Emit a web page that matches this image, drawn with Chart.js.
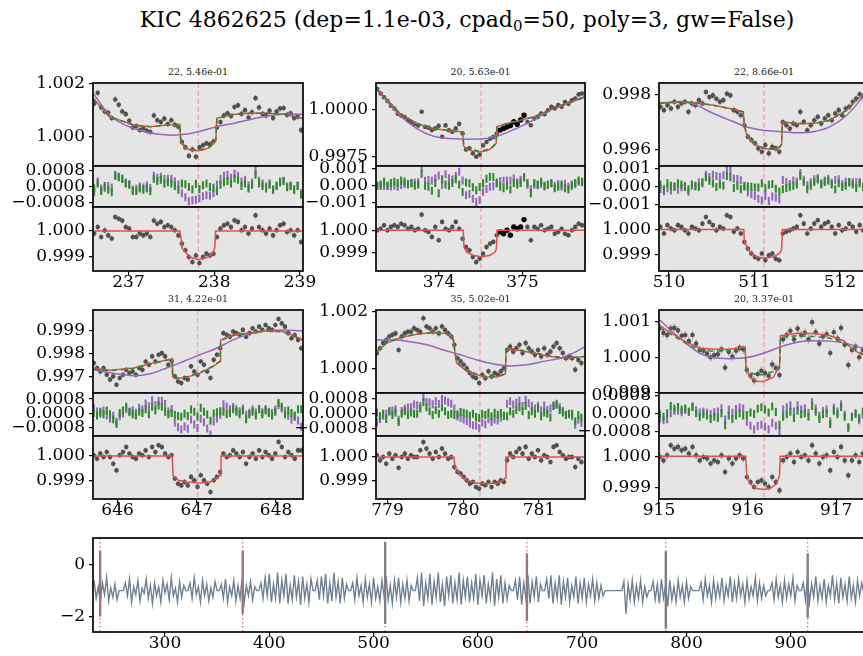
<!DOCTYPE html>
<html>
<head>
<meta charset="utf-8">
<script src="https://cdn.jsdelivr.net/npm/chart.js@4.4.1/dist/chart.umd.min.js"></script>
<style>
  html, body { margin: 0; padding: 0; background: #fff; }
  body { width: 863px; height: 656px; overflow: hidden; position: relative; font-family: "DejaVu Serif", serif; }
  canvas { position: absolute; }
  .lbl { position: absolute; white-space: nowrap; text-align: center; color: #000; }
  #title { left: 0; width: 934px; top: 7px; font-size: 22px; line-height: 26px; }
  #title sub { font-size: 15px; vertical-align: -4px; line-height: 0; }
  .sub { width: 200px; font-size: 9.5px; line-height: 12px; color: #222; }
</style>
</head>
<body>
<div id="title" class="lbl">KIC 4862625 (dep=1.1e-03, cpad<sub>0</sub>=50, poly=3, gw=False)</div>
<script>
// ---------- transit windows ----------
const panelTitles = ["22, 5.46e-01", "20, 5.63e-01", "22, 8.66e-01", "31, 4.22e-01", "35, 5.02e-01", "20, 3.37e-01"];
const transitMid = [237.815, 374.503, 511.111, 647.011, 780.22, 916.186];
const xLimits = [[236.586, 239.035], [373.245, 375.749], [509.883, 512.34], [645.69, 648.34], [778.848, 781.607], [915.0, 917.37]];
const xTickVals = [[237, 238, 239], [374, 375], [510, 511, 512], [646, 647, 648], [779, 780, 781], [915, 916, 917]];
const firstTime = [236.60, 373.26, 509.90, 645.70, 778.86, 915.01];
const CADENCE = 0.0409;     // two Kepler long cadences, days
const FLUX_ERR = 1.2e-4;    // per-point flux uncertainty

const topLimits = [[0.99890, 1.00202], [0.99701, 1.001403], [0.995429, 0.998404], [0.996313, 0.999888], [0.999152, 1.00206], [0.999, 1.00132]];
const topTicks = [[1.000, 1.002], [0.9975, 1.0000], [0.996, 0.998], [0.997, 0.998, 0.999], [1.000, 1.002], [0.999, 1.000, 1.001]];
const topDecimals = [3, 4, 3, 3, 3, 3];
const residLimits = [[-0.00105, 0.00105], [-0.00123, 0.00113], [-0.00114, 0.00113], [-0.00126, 0.00114], [-0.00121, 0.00113], [-0.00098, 0.00092]];
const residTicks = [[-0.0008, 0, 0.0008], [-0.001, 0, 0.001], [-0.001, 0, 0.001], [-0.0008, 0, 0.0008], [-0.0008, 0, 0.0008], [-0.0008, 0, 0.0008]];
const residDecimals = [4, 3, 3, 4, 4, 4];
const detLimits = [[0.998462, 1.000923], [0.998207, 1.001026], [0.998324, 1.000915], [0.99823, 1.000823], [0.99825, 1.000875], [0.998636, 1.000649]];
const detTicks = [0.999, 1.000];
const flaggedIdx = [[], [36, 37, 38, 39, 40, 41, 42, 43], [], [], [], []];

// ---------- per-transit light curves (flux - 1, in units of 1e-5) ----------
const p1Raw = [125,165,110,95,90,70,140,120,95,85, 60,35,40,25,32,22,18,80,62,55, 68,48,62,45,38,-20,-40,-72,-48,-75, -40,-32,-25,-28,-18,35,55,80,88,78, 112,118,86,100,72,92,145,110,86,80, 98,70,95,106,108,82,88,70,75,25];
const p1Det = [-10,15,-23,2,-17,-29,54,47,40,15, 9,-23,-23,-10,-17,-10,-23,40,28,35, 15,22,15,3,-17,-49,-74,-100,-119,-94, -123,-100,-87,-94,-87,-23,9,22,28,15, 41,35,3,15,-10,9,60,15,3,-10, 9,-17,3,22,28,-4,3,-17,3,-42];
const p1ResP = [-30,25,-10,-8,2,-5,60,50,40,20, 12,-15,-12,0,-5,5,-8,55,45,50, 38,40,38,25,10,-35,-55,-75,-70,-68, -60,-50,-45,-48,-35,10,40,55,60,45, 65,55,25,35,5,20,80,30,15,0, 15,-15,5,25,30,0,5,-15,5,-35];
const p1ResG = [-10,15,-23,2,-17,-29,54,47,40,15, 9,-23,-23,-10,-17,-10,-23,40,28,35, 15,22,15,3,-17,16,11,-2,-15,14, -13,6,15,-2,-6,-23,9,22,28,15, 41,35,3,15,-10,9,60,15,3,-10, 9,-17,3,22,28,-4,3,-17,3,-42];
const p1PurpleT = [236.59, 236.78, 237.06, 237.33, 237.52, 237.68, 237.84, 238.03, 238.22, 238.42, 238.61, 238.81, 239.03];
const p1PurpleV = [163, 81, 31, 10, 6, 10, 21, 38, 50, 65, 78, 85, 85];
const p1ModelT = [236.59, 236.78, 237.06, 237.25, 237.45, 237.598, 237.61, 237.66, 237.72, 237.80, 237.88, 237.95, 238.00, 238.018, 238.03, 238.22, 238.42, 238.61, 238.81, 239.03];
const p1RedV = [144, 75, 44, 38, 44, 46, -20, -42, -50, -53, -49, -40, -22, -15, 69, 84, 88, 88, 85, 69];
const p1GreenV = [144, 75, 44, 38, 44, 46, -15, -38, -47, -50, -46, -37, -20, -12, 69, 84, 88, 88, 85, 69];
const p1DetModelT = [236.58, 237.600, 237.628, 237.717, 237.815, 237.931, 237.990, 238.008, 238.015, 239.04];
const p1DetModelV = [0, 0, -68, -100, -110, -100, -81, -60, 0, 0];

const p2Raw = [108,85,65,45,20,5,-22,-32,-40,-55, -66,-76,-85,-12,-92,-96,-109,-100,-86,-144, -84,-110,-118,-100,-76,-127,-212,-205,-232,-250, -238,-190,-172,-155,-146,-127,-109,-100,-92,-85, -65,-78,-55,-30,-66,-83,-48,-40,-21,-25, -4,14,6,23,15,40,30,49,58,80, 85];
const p2Det = [0,7,22,0,15,22,15,29,22,7, 15,0,7,69,0,-7,-29,15,-44,37, 7,0,15,37,7,-37,-74,-88,-118,-140, -125,-103,-74,-59,-51,-22,-7,-15,0,-22, 15,7,15,47,15,-44,15,7,22,0, 7,15,-15,-7,7,-15,-22,0,15,29, 22];
const p2ResP = [0,-2,-2,0,-5,0,-7,3,10,9, 12,16,19,100,28,32,28,42,59,4, 66,42,36,55,80,30,-55,-48,-76,-94, -83,-35,-20,-7,-3,12,26,28,29,28, 41,20,34,50,4,-21,5,2,10,-5, 4,14,-1,9,-6,11,-6,6,8,22, 20];
const p2ResG = [0,7,22,0,15,22,15,29,22,7, 15,0,7,69,0,-7,-29,15,-44,37, 7,0,15,37,7,-37,18,13,-9,-26, -8,14,40,51,50,18,-7,-15,0,-22, 15,7,15,47,15,-44,15,7,22,0, 7,15,-15,-7,7,-15,-22,0,15,29, 22];
const p2PurpleT = [373.25, 373.53, 373.73, 373.93, 374.13, 374.33, 374.53, 374.73, 374.93, 375.13, 375.33, 375.53, 375.75];
const p2PurpleV = [111, -30, -100, -141, -153, -157, -155, -136, -100, -56, -4, 32, 70];
const p2ModelT = [373.25, 373.53, 373.73, 373.93, 374.13, 374.283, 374.295, 374.33, 374.40, 374.49, 374.58, 374.65, 374.685, 374.695, 374.81, 374.93, 375.13, 375.33, 375.53, 375.75];
const p2RedV = [111, -21, -74, -100, -113, -118, -192, -212, -219, -225, -217, -198, -178, -92, -74, -62, -39, -4, 32, 65];
const p2GreenV = [111, -21, -74, -100, -113, -118, -185, -205, -213, -220, -212, -194, -172, -92, -74, -62, -39, -4, 32, 65];
const p2DetModelT = [373.24, 374.290, 374.300, 374.331, 374.411, 374.511, 374.611, 374.671, 374.688, 374.695, 375.76];
const p2DetModelV = [0, 0, -74, -96, -110, -118, -110, -96, -80, 0, 0];

const p3Raw = [-245,-257,-239,-251,-227,-245,-233,-227,-263,-233, -239,-221,-233,-192,-210,-204,-216,-227,-221,-198, -204,-257,-263,-275,-311,-352,-364,-376,-394,-406, -382,-412,-388,-394,-406,-300,-311,-323,-305,-311, -263,-299,-329,-311,-293,-281,-305,-287,-275,-293, -269,-257,-275,-251,-245,-227,-215,-200,-210,-200];
const p3Det = [11,-16,18,4,-3,18,11,-3,-16,11, 4,-3,24,51,31,18,-3,11,4,58, 51,-9,4,-16,-50,-77,-97,-111,-118,-97, -124,-104,-97,-118,-124,-16,-9,-3,4,11, 58,24,-16,4,24,38,11,24,31,11, -16,18,-3,4,24,11,-9,18,-3,4];
const p3ResP = [-14,-27,-10,-23,1,-18,-5,3,-30,3, -1,21,16,64,52,65,57,52,62,91, 90,42,41,34,3,-34,-44,-53,-68,-78, -52,-81,-56,-61,-72,35,25,14,33,27, 74,37,6,23,40,46,17,33,43,20, 36,39,12,26,20,24,23,24,0,-4];
const p3ResG = [11,-16,18,4,-3,18,11,-3,-16,11, 4,-3,24,51,31,18,-3,11,4,58, 51,-9,4,-16,0,1,-2,-6,-6,17, -10,9,14,-13,-28,-16,-9,-3,4,11, 58,24,-16,4,24,38,11,24,31,11, -16,18,-3,4,24,11,-9,18,-3,4];
const p3PurpleT = [509.89, 510.13, 510.32, 510.52, 510.71, 510.91, 511.10, 511.30, 511.49, 511.69, 511.88, 512.08, 512.27];
const p3PurpleV = [-231, -227, -239, -269, -293, -317, -329, -334, -338, -334, -317, -275, -210];
const p3ModelT = [509.89, 510.13, 510.32, 510.52, 510.71, 510.869, 510.880, 510.908, 510.986, 511.103, 511.220, 511.298, 511.318, 511.326, 511.49, 511.69, 511.88, 512.08, 512.27];
const p3RedV = [-233, -227, -231, -239, -251, -263, -311, -346, -376, -394, -398, -390, -380, -299, -305, -305, -293, -257, -198];
const p3GreenV = [-233, -227, -231, -239, -251, -263, -306, -342, -372, -392, -396, -388, -378, -299, -305, -305, -293, -257, -198];
const p3DetModelT = [509.88, 510.876, 510.882, 510.947, 511.025, 511.103, 511.220, 511.298, 511.318, 511.327, 512.35];
const p3DetModelV = [0, 0, -50, -90, -111, -115, -111, -95, -80, 0, 0];

const p4Raw = [-240,-261,-276,-261,-290,-311,-297,-333,-304,-290, -269,-283,-276,-290,-261,-269,-233,-247,-211,-233, -204,-197,-211,-247,-230,-297,-319,-326,-304,-311, -254,-276,-290,-233,-247,-276,-304,-226,-204,-176, -111,-118,-126,-104,-111,-118,-97,-126,-111,-90, -104,-83,-97,-76,-90,-97,-76,-50,-69,-83, -111,-133,-119,-140,-176];
const p4Det = [3,-11,10,-4,16,-4,-32,-59,3,16, 37,10,-4,-11,10,3,23,-4,37,16, 44,37,10,-4,3,-93,-114,-121,-107,-121, -86,-100,-127,-79,-100,-114,-148,-100,-86,-66, 10,-4,3,23,10,-4,16,-32,-4,10, -11,23,-4,16,3,-11,10,58,37,-4, 16,3,-11,23,23];
const p4ResP = [29,11,-2,16,-11,-30,-13,-47,-16,0, 23,10,18,4,32,22,56,40,73,47, 70,71,52,11,23,-50,-77,-90,-73,-86, -34,-62,-82,-30,-49,-84,-117,-45,-28,-8, 51,37,22,36,24,12,27,-7,4,22, 5,23,6,25,10,2,22,47,28,14, -13,-34,-20,-40,-75];
const p4ResG = [3,-11,10,-4,16,-4,-32,-59,3,16, 37,10,-4,-11,10,3,23,-4,37,16, 44,37,10,-4,3,-8,-15,-18,-2,-14, 22,9,-17,32,10,-6,-41,-1,6,12, 10,-4,3,23,10,-4,16,-32,-4,10, -11,23,-4,16,3,-11,10,58,37,-4, 16,3,-11,23,23];
const p4PurpleT = [645.70, 645.99, 646.20, 646.41, 646.62, 646.83, 647.04, 647.25, 647.46, 647.67, 647.88, 648.09, 648.30, 648.34];
const p4PurpleV = [-269, -286, -294, -286, -261, -233, -204, -176, -140, -114, -100, -97, -101, -102];
const p4ModelT = [645.70, 645.905, 646.20, 646.41, 646.62, 646.688, 646.695, 646.746, 646.872, 647.040, 647.208, 647.293, 647.300, 647.46, 647.67, 647.88, 648.09, 648.30, 648.34];
const p4RedV = [-261, -271, -261, -243, -226, -221, -300, -307, -301, -283, -254, -233, -140, -119, -109, -100, -104, -133, -140];
const p4GreenV = [-266, -273, -263, -245, -228, -223, -298, -305, -299, -281, -252, -231, -143, -121, -111, -102, -106, -135, -142];
const p4DetModelT = [645.68, 646.690, 646.700, 646.767, 646.872, 647.040, 647.166, 647.250, 647.293, 647.305, 648.35];
const p4DetModelV = [0, 0, -79, -100, -107, -111, -107, -93, -80, 0, 0];

const p5Raw = [55,72,90,101,113,119,124,66,113,124, 130,130,142,136,130,177,148,142,130,142, 124,148,136,124,113,84,37,26,14,2, -15,-27,-32,-50,-21,-33,-9,-27,-15,-21, -9,2,66,78,60,72,84,55,90,72, 60,49,66,43,72,49,60,78,90,72, 55,37,43,37,-3,31,20];
const p5Det = [7,-14,0,-28,14,-7,7,-45,0,14, -7,7,0,0,28,62,35,14,-7,21, 0,35,14,-7,0,-42,-62,-69,-83,-97, -111,-104,-125,-132,-111,-118,-104,-125,-104,-111, -97,-104,-14,14,0,21,35,14,42,-7, 14,0,28,-14,7,0,-21,42,49,21, 7,-7,0,0,-42,-7,-21];
const p5ResP = [-46,-29,-11,0,12,18,24,-33,15,27, 34,36,50,46,42,91,64,61,52,68, 53,81,72,63,55,29,-15,-23,-31,-40, -53,-62,-64,-79,-47,-57,-30,-45,-31,-36, -22,-10,55,68,50,61,72,42,76,57, 43,29,44,18,45,20,29,45,55,35, 16,-5,-3,-14,-60,-32,-49];
const p5ResG = [7,-14,0,-28,14,-7,7,-45,0,14, -7,7,0,0,28,62,35,14,-7,21, 0,35,14,-7,0,-7,-2,9,5,0, -11,0,-17,-23,-1,-7,6,-15,5,-5, 4,-12,-14,14,0,21,35,14,42,-7, 14,0,28,-14,7,0,-21,42,49,21, 7,-7,0,0,-42,-7,-21];
const p5PurpleT = [778.86, 779.08, 779.30, 779.52, 779.74, 779.96, 780.18, 780.40, 780.62, 780.84, 781.06, 781.28, 781.45, 781.61];
const p5PurpleV = [101, 101, 95, 84, 66, 49, 31, 17, 10, 14, 26, 37, 55, 78];
const p5ModelT = [778.86, 778.99, 779.165, 779.385, 779.605, 779.781, 779.847, 779.869, 779.891, 779.913, 780.045, 780.177, 780.309, 780.441, 780.529, 780.556, 780.565, 780.705, 780.925, 781.145, 781.365, 781.61];
const p5RedV = [60, 90, 109, 121, 127, 124, 113, 101, 54, 20, -9, -21, -29, -29, -21, -18, 66, 66, 55, 43, 37, 43];
const p5GreenV = [62, 92, 110, 122, 127, 124, 115, 104, 60, 24, -5, -18, -27, -27, -20, -16, 70, 68, 57, 45, 38, 43];
const p5DetModelT = [778.84, 779.876, 779.891, 779.957, 780.045, 780.177, 780.309, 780.441, 780.529, 780.553, 780.564, 781.61];
const p5DetModelV = [0, 0, -42, -76, -97, -108, -111, -108, -97, -88, 0, 0];

const p6Raw = [82,68,62,80,82,75,60,62,45,62, 38,20,18,10,0,6,8,22,-29,15, 2,18,26,22,-36,-52,-65,-47,-38,-44, -52,-20,-30,-50,50,62,74,50,80,62, 68,50,98,70,38,58,64,12,70,52, 82,35,-22,20,30,0,20,0];
const p6Det = [-2,-13,3,35,24,30,19,24,9,30, 3,-13,-2,-7,-23,-13,-18,3,-50,-7, -23,-7,3,-7,-66,-82,-98,-82,-77,-87, -98,-66,-82,-109,-13,-2,9,-18,14,-2, 3,-13,35,9,-23,-2,3,-45,14,-2, 30,-13,-61,-13,3,-18,9,-7];
const p6ResP = [-22,-27,-24,2,13,14,7,17,9,33, 16,6,10,5,-1,7,10,25,-25,19, 5,21,28,23,-35,-53,-69,-54,-48,-57, -68,-39,-53,-78,19,29,38,10,38,19, 24,5,52,24,-8,13,19,-33,27,10, 42,-3,-59,-14,-1,-28,-4,-21];
const p6ResG = [-2,-13,3,35,24,30,19,24,9,30, 3,-13,-2,-7,-23,-13,-18,3,-50,-7, -23,-7,3,-7,-5,6,-1,22,29,19, 6,32,8,-48,-13,-2,9,-18,14,-2, 3,-13,35,9,-23,-2,3,-45,14,-2, 30,-13,-61,-13,3,-18,9,-7];
const p6PurpleT = [915.01, 915.16, 915.31, 915.46, 915.61, 915.80, 915.99, 916.18, 916.37, 916.56, 916.74, 916.93, 917.12, 917.31];
const p6PurpleV = [104, 69, 38, 11, -1, -4, -1, 11, 29, 42, 46, 45, 38, 24];
const p6ModelT = [915.01, 915.16, 915.31, 915.46, 915.61, 915.80, 915.972, 915.982, 916.028, 916.104, 916.179, 916.292, 916.348, 916.362, 916.370, 916.556, 916.744, 916.932, 917.083, 917.196, 917.31];
const p6RedV = [88, 64, 42, 26, 22, 22, 29, -29, -56, -67, -68, -56, -29, -20, 60, 67, 66, 60, 46, 20, 6];
const p6GreenV = [82, 60, 38, 20, 17, 18, 22, -28, -43, -49, -49, -40, -34, -30, 55, 60, 58, 53, 42, 24, 8];
const p6DetModelT = [914.99, 915.978, 915.991, 916.028, 916.104, 916.179, 916.254, 916.330, 916.360, 916.368, 917.38];
const p6DetModelV = [0, 0, -61, -87, -103, -106, -103, -87, -61, 0, 0];

// ---------- full light-curve statistic ----------
const lcStart = 232, lcStep = 2;
const lcFlux = [
  -0.6,-1.3,-0.85,-1.45,-0.7,-1.15,-0.5,-1.4,-0.9,-1.25,
  -0.75,-1.35,-1.0,-1.0,-1.0,-0.7,-1.2,-0.55,-1.45,-0.85,
  -1.15,-0.6,-1.4,-0.9,-1.1,-0.55,-1.3,-0.8,-1.5,-0.7,
  -1.2,-0.85,-1.45,-0.6,-1.1,-0.75,-1.35,-0.5,-1.2,-0.9,
  -1.45,-0.65,-1.25,-0.8,-1.0,-1.0,-0.7,-1.3,-0.5,-1.15,
  -0.85,-1.45,-0.6,-1.2,-0.75,-1.4,-0.9,-1.25,-0.65,-1.0,
  -1.0,-0.75,-1.3,-0.55,-1.45,-0.85,-1.2,-0.6,-1.4,-0.8,
  -1.3,-0.55,-1.45,-0.8,-1.2,-0.65,-1.35,-0.85,-1.0,-1.0,
  -0.7,-1.3,-0.5,-1.2,-0.35,-1.45,-0.75,-1.3,-0.3,-1.5,
  -0.6,-1.2,-0.35,-1.5,-0.8,-1.35,-0.4,-1.25,-0.65,-1.55,
  -0.45,-1.3,-0.75,-1.45,-0.55,-1.0,-1.0,-0.6,-1.35,-0.45,
  -1.2,-0.35,-1.5,-0.7,-1.4,-0.3,-1.25,-0.65,-1.5,-0.5,
  -1.3,-0.75,-1.0,-1.0,-0.7,-1.35,-0.5,-1.2,-0.8,-1.45,
  -0.55,-1.25,-0.75,-1.45,-0.5,-1.3,-0.85,-1.4,-0.6,-1.2,
  -0.45,-1.35,-0.8,-1.5,-0.6,-1.25,-0.5,-1.45,-0.75,-1.3,
  -0.6,-1.4,-0.8,-1.0,-1.0,-0.5,-1.4,-0.3,-1.6,-0.7,
  -1.3,-0.35,-1.55,-0.65,-1.25,-0.3,-1.45,-0.75,-1.6,-0.45,
  -1.2,-0.4,-1.5,-0.7,-1.35,-0.3,-1.55,-0.6,-1.25,-0.45,
  -1.45,-0.7,-1.3,-0.35,-1.55,-0.6,-1.2,-0.4,-1.5,-0.75,
  -1.3,-0.3,-1.6,-0.55,-1.25,-0.4,-1.5,-0.7,-1.35,-0.8,
  -1.0,-1.0,-0.6,-1.35,-0.45,-1.55,-0.7,-1.3,-0.4,-1.5,
  -0.65,-1.25,-0.45,-1.45,-0.75,-1.0,-1.0,-0.55,-1.3,-0.4,
  -1.5,-0.7,-1.3,-0.4,-1.55,-0.65,-1.25,-0.5,-1.45,-0.8,
  -1.25,-0.45,-1.5,-0.7,-1.3,-0.5,-1.45,-0.75,-1.2,-0.55,
  -1.4,-0.7,-1.3,-0.8,-1.2,-1.0,-1.0,-1.0,-1.0,-1.0,
  -1.0,-1.0,-1.0,-1.0,-0.65,-1.9,-0.75,-1.35,-0.6,-1.45,
  -0.8,-1.3,-0.6,-1.45,-0.85,-1.25,-1.0,-1.0,-0.65,-1.35,
  -0.75,-1.5,-0.55,-1.3,-0.8,-1.6,-0.6,-1.35,-0.85,-1.45,
  -0.6,-1.25,-0.8,-1.45,-0.65,-1.3,-0.85,-1.0,-1.0,-1.0,
  -1.0,-0.7,-1.35,-0.55,-1.2,-0.8,-1.45,-0.6,-1.3,-0.75,
  -1.25,-0.5,-1.4,-0.8,-1.2,-0.45,-1.45,-0.7,-1.3,-0.55,
  -1.2,-0.75,-1.45,-0.6,-1.3,-0.85,-1.2,-0.5,-1.4,-0.7,
  -1.3,-0.8,-1.2,-1.0,-1.0,-0.7,-1.35,-0.55,-1.25,-0.8,
  -1.45,-0.6,-1.3,-0.75,-1.2,-0.5,-1.4,-0.8,-1.0,-1.0,
  -0.7,-1.35,-0.5,-1.45,-0.75,-1.25,-0.45,-1.4,-0.8,-1.3,
  -0.55,-1.45,-0.8,-1.2,-0.4,-1.35,-0.7,-1.5,-0.5,-1.25,
  -0.75,-1.4,-0.45,-1.3,-0.8,-1.45,-0.6,-1.2,-0.7,-1.1
];
const spikeHigh = [0.55, 0.55, 0.9, 0.45, 0.53, 0.45];
const spikeLow = [-2.0, -1.9, -2.3, -2.18, -2.48, -2.05];
const lcLimitsX = [230.97, 975.0];
const lcLimitsY = [-2.607, 1.045];
const lcTicksX = [300, 400, 500, 600, 700, 800, 900];
const lcTicksY = [-2, 0];

// ---------- styling ----------
const FONT = '"DejaVu Serif"';
const C_POINT = 'rgba(68,68,68,0.9)';
const C_ERR = 'rgba(150,150,150,0.75)';
const C_PURPLE = '#9467bd';
const C_GREEN = '#2f8a2f';
const C_RED = '#e0504d';
const C_PINK = '#f2a3a3';
const C_SLATE = '#708090';
const PANEL_BG = '#e5e5e5';

const colLeft = [93, 376, 659];
const colWidth = [210, 209, 210];
const rowEdges = [[83, 166, 207, 271], [310, 393, 436, 499]];
const LABEL_W = 110, PAD_T = 20, PAD_R = 22, PAD_B = 20, XAXIS_H = 34;

const fmt = (v, d) => v.toFixed(d).replace('-', '\u2212');
const cadenceGrid = (start, n) => Array.from({length: n}, (_, i) => start + i * CADENCE);
const toFlux = v => 1 + v * 1e-5;
const toResid = v => v * 1e-5;

// error bars drawn through the chart's own y scale
const errorBars = {
  id: 'errorBars',
  beforeDatasetDraw(chart, args) {
    const ds = chart.data.datasets[args.index];
    if (!ds.errBar) return;
    const {ctx, chartArea: a} = chart;
    const y = chart.scales.y;
    ctx.save();
    ctx.beginPath(); ctx.rect(a.left, a.top, a.right - a.left, a.bottom - a.top); ctx.clip();
    ctx.strokeStyle = ds.errBar.color; ctx.lineWidth = ds.errBar.width;
    ctx.beginPath();
    args.meta.data.forEach((pt, i) => {
      const v = ds.data[i].y;
      let y0, y1;
      if (ds.errBar.err != null) { y0 = y.getPixelForValue(v - ds.errBar.err); y1 = y.getPixelForValue(v + ds.errBar.err); }
      else { const py = y.getPixelForValue(v); y0 = py - ds.errBar.half; y1 = py + ds.errBar.half; }
      ctx.moveTo(pt.x, y0); ctx.lineTo(pt.x, y1);
    });
    ctx.stroke();
    ctx.restore();
  }
};

function drawVlines(chart, d) {
  const {ctx, chartArea: a} = chart;
  const x = chart.scales.x;
  ctx.save();
  ctx.beginPath(); ctx.rect(a.left, a.top, a.right - a.left, a.bottom - a.top); ctx.clip();
  ctx.strokeStyle = d.vColor; ctx.lineWidth = d.vWidth; ctx.setLineDash(d.vDash);
  d.vlines.forEach(t => {
    const px = x.getPixelForValue(t);
    ctx.beginPath(); ctx.moveTo(px, a.top); ctx.lineTo(px, a.bottom); ctx.stroke();
  });
  ctx.restore();
}

// panel background, marker lines and frame
const panelDeco = {
  id: 'panelDeco',
  beforeDatasetsDraw(chart) {
    const d = chart.canvas._deco; const {ctx, chartArea: a} = chart;
    if (d.bg) { ctx.save(); ctx.fillStyle = d.bg; ctx.fillRect(a.left, a.top, a.right - a.left, a.bottom - a.top); ctx.restore(); }
    if (d.vlines && !d.vFront) drawVlines(chart, d);
  },
  afterDatasetsDraw(chart) {
    const d = chart.canvas._deco;
    if (d.vlines && d.vFront) drawVlines(chart, d);
  },
  afterDraw(chart) {
    const {ctx, chartArea: a} = chart;
    ctx.save(); ctx.strokeStyle = '#111'; ctx.lineWidth = 1.8;
    ctx.strokeRect(a.left, a.top, a.right - a.left, a.bottom - a.top);
    ctx.restore();
  }
};

function makeChart(box, cfg) {
  const lw = cfg.labelW || LABEL_W;
  const withX = !!cfg.xTicks;
  const cw = box.w + lw + PAD_R;
  const ch = box.h + PAD_T + (withX ? XAXIS_H : PAD_B);
  const c = document.createElement('canvas');
  c.width = cw; c.height = ch;
  c.style.width = cw + 'px'; c.style.height = ch + 'px';
  c.style.left = (box.x - lw) + 'px'; c.style.top = (box.y - PAD_T) + 'px';
  c._deco = cfg.deco;
  document.body.appendChild(c);
  const tickGrid = {display: true, drawOnChartArea: false, drawTicks: true, tickLength: 4, color: '#000', lineWidth: 1.2};
  new Chart(c, {
    type: 'scatter',
    data: {datasets: cfg.datasets},
    options: {
      responsive: false, animation: false, devicePixelRatio: 1, events: [],
      layout: {padding: {left: 0, top: PAD_T, right: PAD_R, bottom: withX ? 0 : PAD_B}},
      plugins: {legend: {display: false}, tooltip: {enabled: false}},
      scales: {
        x: {
          type: 'linear', min: cfg.xr[0], max: cfg.xr[1], display: withX,
          afterFit: s => { s.height = withX ? XAXIS_H : 0; },
          afterBuildTicks: s => { s.ticks = (cfg.xTicks || []).map(v => ({value: v})); },
          ticks: {font: {family: FONT, size: 17, lineHeight: 1}, color: '#000', padding: -1, maxRotation: 0, autoSkip: false, callback: v => fmt(v, 0)},
          grid: tickGrid, border: {display: false}
        },
        y: {
          type: 'linear', min: cfg.yr[0], max: cfg.yr[1],
          afterFit: s => { s.width = lw; },
          afterBuildTicks: s => { s.ticks = cfg.yTicks.map(v => ({value: v})); },
          ticks: {font: {family: FONT, size: 17}, color: '#000', padding: 4, autoSkip: false, callback: v => fmt(v, cfg.dec)},
          grid: tickGrid, border: {display: false}
        }
      }
    },
    plugins: [errorBars, panelDeco]
  });
}

function lineSet(tArr, vArr, conv, color, extra) {
  return Object.assign({
    data: tArr.map((x, i) => ({x, y: conv(vArr[i])})),
    showLine: true, pointRadius: 0, borderColor: color, borderWidth: 1.5, fill: false
  }, extra || {});
}

function pointSet(times, vals, flagged) {
  const fl = new Set(flagged);
  return {
    data: times.map((x, i) => ({x, y: toFlux(vals[i])})),
    showLine: false,
    pointRadius: ctx => fl.has(ctx.dataIndex) ? 2.7 : 2.3,
    pointBackgroundColor: ctx => fl.has(ctx.dataIndex) ? '#000' : C_POINT,
    pointBorderWidth: 0,
    errBar: {err: FLUX_ERR, color: C_ERR, width: 1.3},
    order: 5
  };
}

function residSet(times, vals, color, order) {
  return {
    data: times.map((x, i) => ({x, y: toResid(vals[i])})),
    showLine: false, pointRadius: 0,
    errBar: {half: 4, color, width: 2.1},
    order
  };
}

const panels = [
  {raw: p1Raw, det: p1Det, resP: p1ResP, resG: p1ResG, purple: [p1PurpleT, p1PurpleV], model: [p1ModelT, p1RedV, p1GreenV], detModel: [p1DetModelT, p1DetModelV]},
  {raw: p2Raw, det: p2Det, resP: p2ResP, resG: p2ResG, purple: [p2PurpleT, p2PurpleV], model: [p2ModelT, p2RedV, p2GreenV], detModel: [p2DetModelT, p2DetModelV]},
  {raw: p3Raw, det: p3Det, resP: p3ResP, resG: p3ResG, purple: [p3PurpleT, p3PurpleV], model: [p3ModelT, p3RedV, p3GreenV], detModel: [p3DetModelT, p3DetModelV]},
  {raw: p4Raw, det: p4Det, resP: p4ResP, resG: p4ResG, purple: [p4PurpleT, p4PurpleV], model: [p4ModelT, p4RedV, p4GreenV], detModel: [p4DetModelT, p4DetModelV]},
  {raw: p5Raw, det: p5Det, resP: p5ResP, resG: p5ResG, purple: [p5PurpleT, p5PurpleV], model: [p5ModelT, p5RedV, p5GreenV], detModel: [p5DetModelT, p5DetModelV]},
  {raw: p6Raw, det: p6Det, resP: p6ResP, resG: p6ResG, purple: [p6PurpleT, p6PurpleV], model: [p6ModelT, p6RedV, p6GreenV], detModel: [p6DetModelT, p6DetModelV]}
];

panels.forEach((p, k) => {
  const row = Math.floor(k / 3), col = k % 3;
  const [yTop, yMid, yBot, yEnd] = rowEdges[row];
  const x = colLeft[col], w = colWidth[col];
  const times = cadenceGrid(firstTime[k], p.raw.length);
  const deco = {bg: PANEL_BG, vlines: [transitMid[k]], vColor: C_PINK, vWidth: 1.3, vDash: [5, 3], vFront: false};

  // subplot title
  const t = document.createElement('div');
  t.className = 'lbl sub'; t.textContent = panelTitles[k];
  t.style.left = (x + w / 2 - 100) + 'px'; t.style.top = (yTop - 17) + 'px';
  document.body.appendChild(t);

  // raw flux with the two trend fits
  makeChart({x, y: yTop, w, h: yMid - yTop}, {
    xr: xLimits[k], yr: topLimits[k], yTicks: topTicks[k], dec: topDecimals[k], deco,
    datasets: [
      pointSet(times, p.raw, flaggedIdx[k]),
      lineSet(p.purple[0], p.purple[1], toFlux, C_PURPLE, {cubicInterpolationMode: 'monotone', order: 3}),
      lineSet(p.model[0], p.model[1], toFlux, C_RED, {order: 2}),
      lineSet(p.model[0], p.model[2], toFlux, C_GREEN, {borderDash: [5, 4], order: 1})
    ]
  });

  // residuals
  makeChart({x, y: yMid, w, h: yBot - yMid}, {
    xr: xLimits[k], yr: residLimits[k], yTicks: residTicks[k], dec: residDecimals[k], deco,
    datasets: [residSet(times, p.resP, C_PURPLE, 2), residSet(times, p.resG, C_GREEN, 1)]
  });

  // detrended flux with the transit model
  makeChart({x, y: yBot, w, h: yEnd - yBot}, {
    xr: xLimits[k], yr: detLimits[k], yTicks: detTicks, dec: 3, xTicks: xTickVals[k], deco,
    datasets: [
      pointSet(times, p.det, flaggedIdx[k]),
      lineSet(p.detModel[0], p.detModel[1], toFlux, C_RED, {order: 1})
    ]
  });
});

// full time series
const spikeData = [];
transitMid.forEach((tc, j) => { spikeData.push({x: tc, y: spikeLow[j]}, {x: tc, y: spikeHigh[j]}, {x: tc, y: null}); });
makeChart({x: 93, y: 538, w: 776, h: 94}, {
  labelW: 80, xr: lcLimitsX, yr: lcLimitsY, yTicks: lcTicksY, dec: 0, xTicks: lcTicksX,
  deco: {bg: null, vlines: transitMid, vColor: '#e06464', vWidth: 1.2, vDash: [1.5, 2.5], vFront: true},
  datasets: [
    {data: lcFlux.map((v, k) => ({x: lcStart + k * lcStep, y: v})), showLine: true, pointRadius: 0, borderColor: C_SLATE, borderWidth: 1.4, order: 2},
    {data: spikeData, showLine: true, spanGaps: false, pointRadius: 0, borderColor: C_SLATE, borderWidth: 2.4, order: 1}
  ]
});
</script>
</body>
</html>
